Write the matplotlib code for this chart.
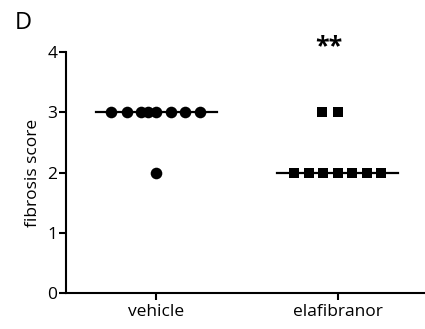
import matplotlib
matplotlib.use("Agg")
import matplotlib.pyplot as plt
import numpy as np

plt.rcParams['font.family'] = ['Open Sans', 'DejaVu Sans']

groups = ["vehicle", "elafibranor"]
vehicle_scores = [3, 3, 3, 3, 3, 3, 3, 3, 2]
vehicle_jitter = [-0.25, -0.16, -0.085, -0.045, 0.0, 0.08, 0.16, 0.24, 0.0]
elaf_scores = [3, 3, 2, 2, 2, 2, 2, 2, 2]
elaf_jitter = [-0.085, 0.0, -0.24, -0.16, -0.08, 0.0, 0.08, 0.16, 0.24]
medians = [np.median(vehicle_scores), np.median(elaf_scores)]
yticks = [0, 1, 2, 3, 4]
signif = "**"

fig = plt.figure(figsize=(4.25, 3.29), dpi=100)
ax = fig.add_axes([0.155, 0.109, 0.845, 0.733])

xs = np.arange(1, len(groups) + 1)
half = 0.335
for i, m in enumerate(medians):
    ax.plot([xs[i] - half, xs[i] + half], [m, m], color='black', lw=1.6, zorder=1)

ax.scatter(xs[0] + np.array(vehicle_jitter), vehicle_scores, marker='o', s=70,
           color='black', zorder=3, linewidths=0)
ax.scatter(xs[1] + np.array(elaf_jitter), elaf_scores, marker='s', s=58,
           color='black', zorder=3, linewidths=0)

ax.text(xs[1] - 0.05, 4.08, signif, ha='center', va='center', fontsize=18,
        fontweight='bold')

ax.set_xlim(0.5, 2.483)
ax.set_ylim(0, 4)
ax.set_yticks(yticks)
ax.set_xticks(xs)
ax.set_xticklabels(groups)
ax.set_ylabel("fibrosis score", fontsize=12.5, labelpad=5)

for s in ['top', 'right']:
    ax.spines[s].set_visible(False)
for s in ['left', 'bottom']:
    ax.spines[s].set_linewidth(1.5)
ax.tick_params(axis='both', width=1.5, length=5, labelsize=12.5, pad=1)
ax.tick_params(axis='x', pad=3)

fig.text(0.035, 0.93, "D", fontsize=17, ha='left', va='center')

fig.savefig("out.png", dpi=100)
